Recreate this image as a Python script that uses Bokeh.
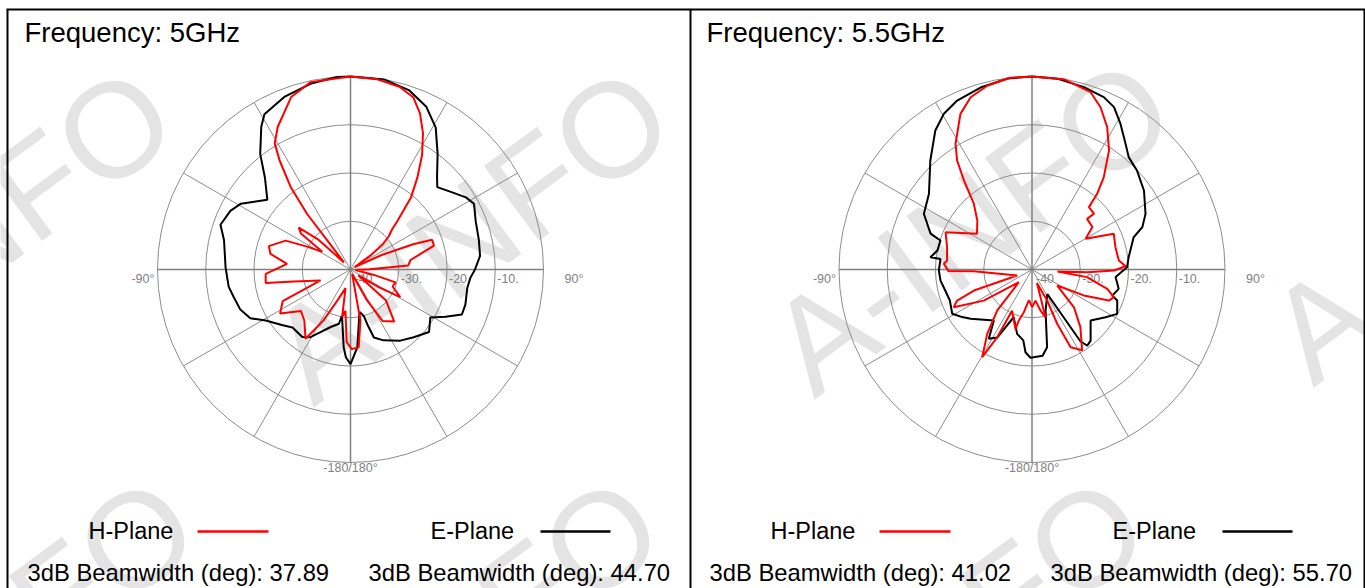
import numpy as np
from bokeh.plotting import figure
from bokeh.models import Range1d
from bokeh.core.properties import value
from bokeh.embed import file_html
from bokeh.resources import INLINE

# ---------------- data ----------------
titles = ["Frequency: 5GHz", "Frequency: 5.5GHz"]
h_beamwidth = [37.89, 41.02]
e_beamwidth = [44.70, 55.70]
series_names = ["H-Plane", "E-Plane"]
ring_labels = ["-40", "-30.", "-20.", "-10."]
angle_labels = ["-90°", "90°", "-180/180°"]
watermark_text = "A-INFO"

# H-Plane 5 GHz (angle deg clockwise from top, level dB)
h5_ang = [0, 8, 15, 20, 24, 28, 32, 36, 40, 44, 46, 49, 52, 55, 60, 65, 68, 70, 74, 78,
          81, 86, 89, 95, 103, 106, 112, 119, 122, 127, 131, 140, 148, 152, 160, 169, 174, 179, 183, 187,
          190, 195, 203, 208, 213, 222, 230, 238, 245, 250, 258, 261, 267, 275, 281, 286, 290, 294, 298, 302,
          306, 309, 313, 317, 320, 321.5, 322, 324, 327, 329, 333, 341, 348, 360]
h5_db = [0, -0.2, -0.8, -2, -4.6, -8, -12, -16.4, -20.5, -26, -28, -29.5, -31.5, -35, -39, -33, -26, -22, -22, -25.5,
         -27.4, -28, -36, -39, -35, -30.3, -30.6, -28.2, -33, -38, -30.3, -25.9, -27.4, -33, -39, -29.2, -23.8, -23.5, -24.9, -31.4,
         -30, -36, -33, -28, -22.9, -25.7, -26.6, -22.8, -24.5, -33.4, -28, -22.2, -22.4, -26.8, -23.1, -22.4, -24, -25.3, -30, -33.1,
         -27.3, -26.2, -31, -38, -36, -32, -25.4, -19, -13, -9.5, -6.8, -2.2, -0.3, 0]

# E-Plane 5 GHz
e5_ang = [0, 10, 18, 25, 31, 37, 43, 46.5, 52, 58, 62, 69, 77, 84, 90, 94, 99, 107, 112, 116.5,
          121, 128.5, 137, 145, 155, 161, 163, 164, 168, 175, 180, 183, 185, 190.5, 192, 199, 205.6, 210.6, 215.5, 225,
          231, 239, 244, 250, 257, 262, 271, 283, 289, 296, 301, 310, 317, 322, 328, 331, 339, 348, 356, 360]
e5_db = [0, 0, -0.9, -2.8, -5.7, -10, -13.7, -15.2, -13.8, -11.8, -11, -12.2, -12.7, -13, -14.2, -15.1, -15.5, -15.1, -15.1, -18,
         -20.7, -19.2, -20.8, -22, -23.8, -25.1, -28.2, -30, -31, -23.8, -20.4, -21.8, -23.8, -30.3, -28.5, -27.4, -25.6, -23.7, -22.8, -23,
         -21.7, -19.5, -16.9, -15.7, -15.1, -14.5, -14.1, -13.1, -11.5, -12.3, -13.5, -17.5, -14, -9.6, -5.1, -3.2, -1.7, -0.6, 0, 0]

# H-Plane 5.5 GHz
h55_ang = [0, 9.5, 18.3, 22.9, 27.8, 32.9, 37.9, 40.7, 42.4, 48, 47.4, 54.9, 60.2, 66.4, 75, 84.1, 88, 90.7, 92.8, 94.5,
           97.9, 104.4, 108.7, 112, 116.6, 122.4, 132, 140, 148.2, 153.6, 155.1, 153.9, 160, 164.2, 168.3, 173.6, 179.7, 185.8, 190.8, 194.5,
           195.5, 205.8, 207.2, 209.6, 214.9, 220.4, 226, 237.2, 244.3, 247.5, 250.1, 248, 268.4, 268.9, 273.7, 276, 284.7, 293.3, 303, 311.8,
           318.5, 322.6, 325.5, 328.7, 335.3, 340.4, 346.3, 353.6, 360]
h55_db = [0, 0, -1.3, -3.5, -6.6, -10.6, -15.8, -19.3, -22.5, -22.7, -24.5, -24.7, -27.2, -21.5, -22.1, -21.9, -20.6, -23, -28.5, -34.7,
          -28.5, -23.9, -22.1, -22.8, -28, -33.8, -28.3, -24.4, -20.3, -22, -27.6, -32.9, -37, -29.7, -31.3, -33.5, -32.2, -33.6, -31, -29.1,
          -27.2, -30.5, -24.2, -19.1, -23.8, -28.9, -36.2, -28.1, -22, -23.2, -27.2, -36.7, -27.9, -22.7, -21.7, -22.3, -21.8, -20.5, -26.4, -24.8,
          -21.8, -16.8, -12.6, -9.5, -4.5, -2.1, -0.8, 0, 0]

# E-Plane 5.5 GHz
e55_ang = [0, 7.5, 15.9, 22.6, 26.8, 31.3, 36.6, 40.8, 46.7, 54.8, 63.9, 69, 72.4, 82.7, 88.6, 95.2, 102.6, 108, 110, 117.5,
           123, 131, 140.5, 144, 146, 148, 161.8, 169, 173, 181, 184.5, 187, 193, 201, 207, 212, 216.8, 231.3, 235.7, 241,
           249.3, 256.4, 263.1, 269.4, 276.6, 276.9, 281.3, 287.6, 289.5, 297.2, 306.3, 317, 325.2, 330.5, 336.1, 344.2, 352.6, 360]
e55_db = [0, -0.1, -0.7, -1.3, -2.3, -4.7, -7.5, -9.3, -10.1, -11.6, -13.8, -15.5, -17.9, -19.8, -20.3, -22.6, -21.6, -22.5, -21.2, -20.1,
          -21.8, -23.9, -20.9, -20.5, -22, -34, -31, -23.6, -22, -21.7, -22.8, -25.2, -26.3, -29.4, -24.2, -23.1, -26.8, -23.7, -22.5, -21.1,
          -21.8, -21.5, -20.9, -20.7, -20.9, -18.8, -20, -20.1, -17.7, -14.8, -13.5, -9.1, -4.9, -2.9, -1.7, -0.8, -0.1, 0]

h_series = [(h5_ang, h5_db), (h55_ang, h55_db)]
e_series = [(e5_ang, e5_db), (e55_ang, e55_db)]

# ---------------- layout (pixel units, origin top-left) ----------------
W, H = 1365, 588
PANEL_DX = 682             # horizontal offset of the second panel
CXS = [350.0, 1031.5]      # polar centres
CY = 269.0
R = 193.0                  # radius of the 0 dB ring
DB_MIN = -40.0

FONT = value("Liberation Sans")
GRID_C = "#8c8c8c"
LABEL_C = "#7f7f7f"

p = figure(width=W, height=H, x_range=Range1d(0, W), y_range=Range1d(H, 0),
           output_backend="svg", toolbar_location=None, min_border=0,
           x_axis_location=None, y_axis_location=None, outline_line_color=None,
           background_fill_color="white", border_fill_color="white")
p.xgrid.visible = False
p.ygrid.visible = False


def to_xy(cx, cy, ang, db):
    a = np.deg2rad(np.asarray(ang, dtype=float))
    r = R * (np.clip(np.asarray(db, dtype=float), DB_MIN, 0) - DB_MIN) / (-DB_MIN)
    return cx + r * np.sin(a), cy - r * np.cos(a)


# watermark (very light grey, rotated)
wm_x = [-212, 285, 786, 1285, -190, 275, 760, 1265]
wm_y = [370, 370, 362, 350, 780, 780, 780, 780]
p.text(x=wm_x, y=wm_y, text=[watermark_text] * len(wm_x),
       angle=np.deg2rad(36.5), text_font=FONT, text_font_size="135px",
       text_color="#e4e4e4", text_align="left", text_baseline="alphabetic")

for i in range(2):
    cx = CXS[i]
    off = i * PANEL_DX

    # rings
    p.circle(x=[cx] * 4, y=[CY] * 4, radius=[R * k / 4 for k in range(1, 5)],
             fill_color=None, line_color=GRID_C, line_width=1)
    # spokes every 30 degrees
    xs, ys = [], []
    for a in range(0, 360, 30):
        if a % 90 == 0:
            continue
        ex, ey = to_xy(cx, CY, [a], [0])
        xs.append([cx, ex[0]]); ys.append([CY, ey[0]])
    p.multi_line(xs=xs, ys=ys, line_color=GRID_C, line_width=1)
    axs, ays = [], []
    for a in (0, 90, 180, 270):
        ex, ey = to_xy(cx, CY, [a], [0])
        axs.append([cx, ex[0]]); ays.append([CY, ey[0]])
    p.multi_line(xs=axs, ys=ays, line_color="#808080", line_width=1.5)

    # ring labels
    p.text(x=[cx + 4, cx + R / 4 + 2, cx + R / 2 + 2, cx + 3 * R / 4 + 2], y=[CY + 9] * 4,
           text=ring_labels, text_font=FONT, text_font_size="12.5px", text_color=LABEL_C,
           text_align="left", text_baseline="alphabetic")
    # angle labels
    p.text(x=[cx - R - 3], y=[CY + 9], text=[angle_labels[0]], text_font=FONT,
           text_font_size="12.5px", text_color=LABEL_C, text_align="right", text_baseline="alphabetic")
    p.text(x=[cx + R + 21], y=[CY + 9], text=[angle_labels[1]], text_font=FONT,
           text_font_size="12.5px", text_color=LABEL_C, text_align="left", text_baseline="alphabetic")
    p.text(x=[cx], y=[CY + R + 5], text=[angle_labels[2]], text_font=FONT,
           text_font_size="12.5px", text_color=LABEL_C, text_align="center", text_baseline="alphabetic")

    # pattern curves
    ex_, ey_ = to_xy(cx, CY, *e_series[i])
    p.line(ex_, ey_, line_color="black", line_width=2)
    hx_, hy_ = to_xy(cx, CY, *h_series[i])
    p.line(hx_, hy_, line_color="#ff0000", line_width=2)

    # title
    p.text(x=[24 + off], y=[31.5], text=[titles[i]], text_font=FONT, text_font_size="27.5px",
           text_color="black", text_align="left", text_baseline="alphabetic")
    # legend
    p.text(x=[88 + off, 430 + off], y=[530.5, 530.5], text=series_names, text_font=FONT,
           text_font_size="23.5px", text_color="black", text_align="left", text_baseline="alphabetic")
    p.segment(x0=[197 + off], y0=[531], x1=[268 + off], y1=[531], line_color="#ff0000", line_width=2.5)
    p.segment(x0=[540 + off], y0=[531], x1=[610 + off], y1=[531], line_color="black", line_width=2.5)
    # beamwidth texts
    p.text(x=[27 + off, 368 + off], y=[571.5, 571.5],
           text=["3dB Beamwidth (deg): %.2f" % h_beamwidth[i], "3dB Beamwidth (deg): %.2f" % e_beamwidth[i]],
           text_font=FONT, text_font_size="23.8px", text_color="black",
           text_align="left", text_baseline="alphabetic")

# panel borders
p.multi_line(xs=[[7, 7], [6, 1365], [690, 690], [1364, 1364]],
             ys=[[9, 588], [9, 9], [9, 588], [9, 588]], line_color="black", line_width=2)

open("out.html", "w").write(file_html(p, INLINE))
